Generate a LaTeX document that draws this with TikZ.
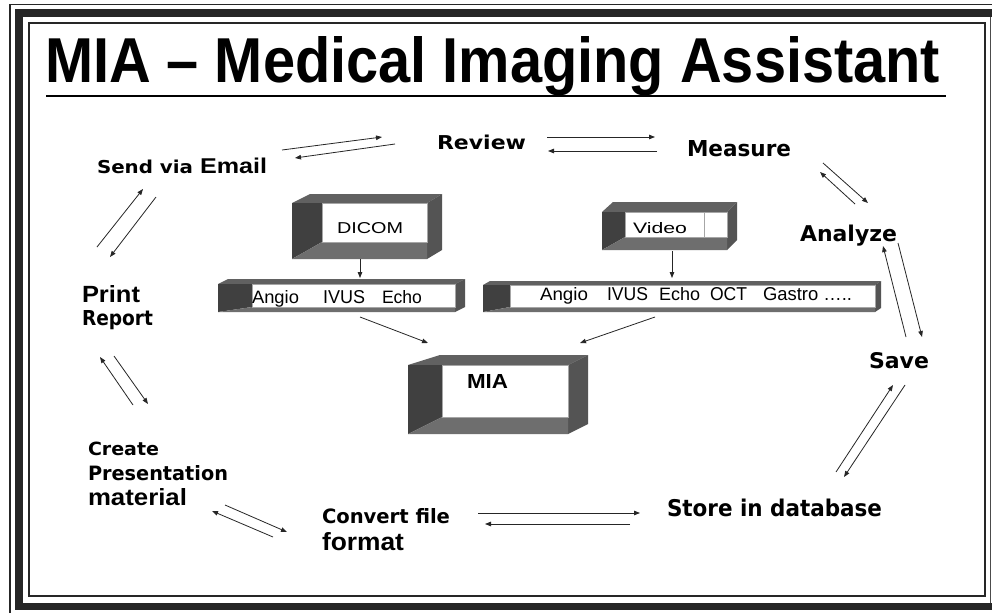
\documentclass[tikz,border=0pt]{standalone}
\usepackage{fontspec}
\usepackage{graphicx}
\setmainfont{Liberation Sans}
\newfontfamily\vfont{DejaVu Sans}
\usetikzlibrary{arrows.meta}
\newcommand{\fitbox}[3]{\resizebox{#1pt}{#2pt}{#3}}
\definecolor{btop}{gray}{0.38}
\definecolor{bleft}{gray}{0.25}
\definecolor{bfloor}{gray}{0.43}
\definecolor{bright}{gray}{0.33}
% open box: #1 x1, #2 y1, #3 x2, #4 y2, #5 window left x, #6 floor top y, #7 back dx left, #8 back dx right, #9 back dy
\newcommand{\openbox}[9]{%
  \fill[btop] (#1,#2) -- ({#1+#7},{#2-#9}) -- ({#3+#8},{#2-#9}) -- (#3,#2) -- cycle;
  \fill[bright] (#3,#2) -- ({#3+#8},{#2-#9}) -- ({#3+#8},{#4-#9}) -- (#3,#4) -- cycle;
  \fill[bleft] (#1,#2) -- (#5,#2) -- (#5,#6) -- (#1,#4) -- cycle;
  \fill[bfloor] (#1,#4) -- (#5,#6) -- (#3,#6) -- (#3,#4) -- cycle;
  \draw[gray!70, line width=0.8pt, fill=white] (#5,#2) rectangle (#3,#6);
}
\begin{document}
\begin{tikzpicture}[x=1pt,y=-1pt,
  lbl/.style={anchor=base west, inner sep=0pt, outer sep=0pt},
  arr/.style={-{Triangle[length=6pt,width=4.5pt]}, line width=0.8pt, black!85},
  frameline/.style={black!85}]
\useasboundingbox (0,0) rectangle (992,613);
\fill[white] (0,0) rectangle (992,613);

% frame
\draw[frameline, line width=1.2pt] (10,613) -- (10,4.5) -- (995,4.5);
\draw[frameline, line width=7.5pt, line join=miter] (1000,606.5) -- (19,606.5) -- (19,13) -- (1000,13);
\draw[frameline, line width=1.3pt] (29,23) rectangle (985,596);
\draw[black!70, line width=1pt] (990,17) -- (990,603);

% title
\node[lbl] (title) at (45,82) {\fitbox{895}{46}{\bfseries MIA – Medical Imaging Assistant}};
\draw[line width=2pt] (46,96) -- (946,96);

% boxes
\openbox{292}{203}{427}{259}{322}{242}{18}{15}{9}
\openbox{602}{212}{727}{250}{625}{237}{11}{10}{10}
\draw[gray!70, line width=0.8pt] (704,212) -- (704,237);
\openbox{218}{284}{455}{312}{252}{307}{10}{10}{5}
\openbox{483}{285}{875}{312}{510}{307}{7}{6}{4}
\openbox{408}{365}{568}{434}{442}{417}{32}{20}{10}

% box texts
\node[lbl] (dicom) at (337,233) {\fitbox{66}{11}{DICOM}};
\node[lbl] (video) at (633,233) {\fitbox{54}{11}{Video}};
\node[lbl] (mia) at (467,388) {\fitbox{41}{14}{\bfseries MIA}};
\node[lbl] (la) at (252,303) {\fitbox{47}{13}{Angio}};
\node[lbl] (li) at (323,303) {\fitbox{42}{13}{IVUS}};
\node[lbl] (le) at (382,303) {\fitbox{40}{13}{Echo}};
\node[lbl] (ra) at (540,300) {\fitbox{48}{13}{Angio}};
\node[lbl] (ri) at (607,300) {\fitbox{41}{13}{IVUS}};
\node[lbl] (re) at (659,300) {\fitbox{41}{13}{Echo}};
\node[lbl] (ro) at (710,300) {\fitbox{37}{13}{OCT}};
\node[lbl] (rg) at (763,300) {\fitbox{89}{13}{Gastro …..}};

% labels
\node[lbl] (sendvia) at (97,173) {\fitbox{96}{13.5}{\vfont\bfseries Send via}};
\node[lbl] (email) at (200,173) {\fitbox{67}{15.5}{\bfseries Email}};
\node[lbl] (review) at (437,149) {\fitbox{89}{14.5}{\vfont\bfseries Review}};
\node[lbl] (measure) at (687,156) {\fitbox{104}{16}{\vfont\bfseries Measure}};
\node[lbl] (analyze) at (800,241) {\fitbox{97}{16.5}{\vfont\bfseries Analyze}};
\node[lbl] (save) at (869,368) {\fitbox{60}{16}{\vfont\bfseries Save}};
\node[lbl] (store) at (667,516) {\fitbox{215}{17.5}{\vfont\bfseries Store in database}};
\node[lbl] (convert) at (322,523) {\fitbox{128}{15}{\vfont\bfseries Convert file}};
\node[lbl] (format) at (322,550) {\fitbox{82}{18}{\bfseries format}};
\node[lbl] (create) at (88,455) {\fitbox{71}{13.5}{\vfont\bfseries Create}};
\node[lbl] (present) at (88,480) {\fitbox{140}{15}{\vfont\bfseries Presentation}};
\node[lbl] (material) at (88,505) {\fitbox{99}{17}{\bfseries material}};
\node[lbl] (print) at (82,302) {\fitbox{58}{17}{\bfseries Print}};
\node[lbl] (report) at (82,325) {\fitbox{71}{15}{\vfont\bfseries Report}};

% connector end points
\coordinate (er1) at (282,150); \coordinate (er2) at (382,137);
\coordinate (re1) at (395,144); \coordinate (re2) at (295,158);
\coordinate (rm1) at (547,137); \coordinate (rm2) at (655,137);
\coordinate (mr1) at (657,151); \coordinate (mr2) at (548,151);
\coordinate (ma1) at (823,163); \coordinate (ma2) at (868,203);
\coordinate (am1) at (855,204); \coordinate (am2) at (820,172);
\coordinate (as1) at (898,243); \coordinate (as2) at (922,337);
\coordinate (sa1) at (906,337); \coordinate (sa2) at (883,246);
\coordinate (ds1) at (836,472); \coordinate (ds2) at (893,385);
\coordinate (sd1) at (905,385); \coordinate (sd2) at (844,477);
\coordinate (cs1) at (478,513); \coordinate (cs2) at (640,513);
\coordinate (sc1) at (630,524); \coordinate (sc2) at (485,524);
\coordinate (pc1) at (225,505); \coordinate (pc2) at (287,532);
\coordinate (cp1) at (273,537); \coordinate (cp2) at (212,511);
\coordinate (rc1) at (114,356); \coordinate (rc2) at (148,404);
\coordinate (cr1) at (133,405); \coordinate (cr2) at (100,357);
\coordinate (pe1) at (97,247);  \coordinate (pe2) at (143,189);
\coordinate (ep1) at (156,197); \coordinate (ep2) at (110,257);
\coordinate (dl1) at (360,259); \coordinate (dl2) at (360,278);
\coordinate (vr1) at (672,251); \coordinate (vr2) at (672,278);
\coordinate (lm1) at (360,317); \coordinate (lm2) at (428,343);
\coordinate (rm3) at (655,317); \coordinate (rm4) at (580,343);

\foreach \a/\b in {er1/er2, re1/re2, rm1/rm2, mr1/mr2, ma1/ma2, am1/am2,
  as1/as2, sa1/sa2, ds1/ds2, sd1/sd2, cs1/cs2, sc1/sc2, pc1/pc2, cp1/cp2,
  rc1/rc2, cr1/cr2, pe1/pe2, ep1/ep2, dl1/dl2, vr1/vr2, lm1/lm2, rm3/rm4}
  \draw[arr] (\a) -- (\b);
\end{tikzpicture}
\end{document}
